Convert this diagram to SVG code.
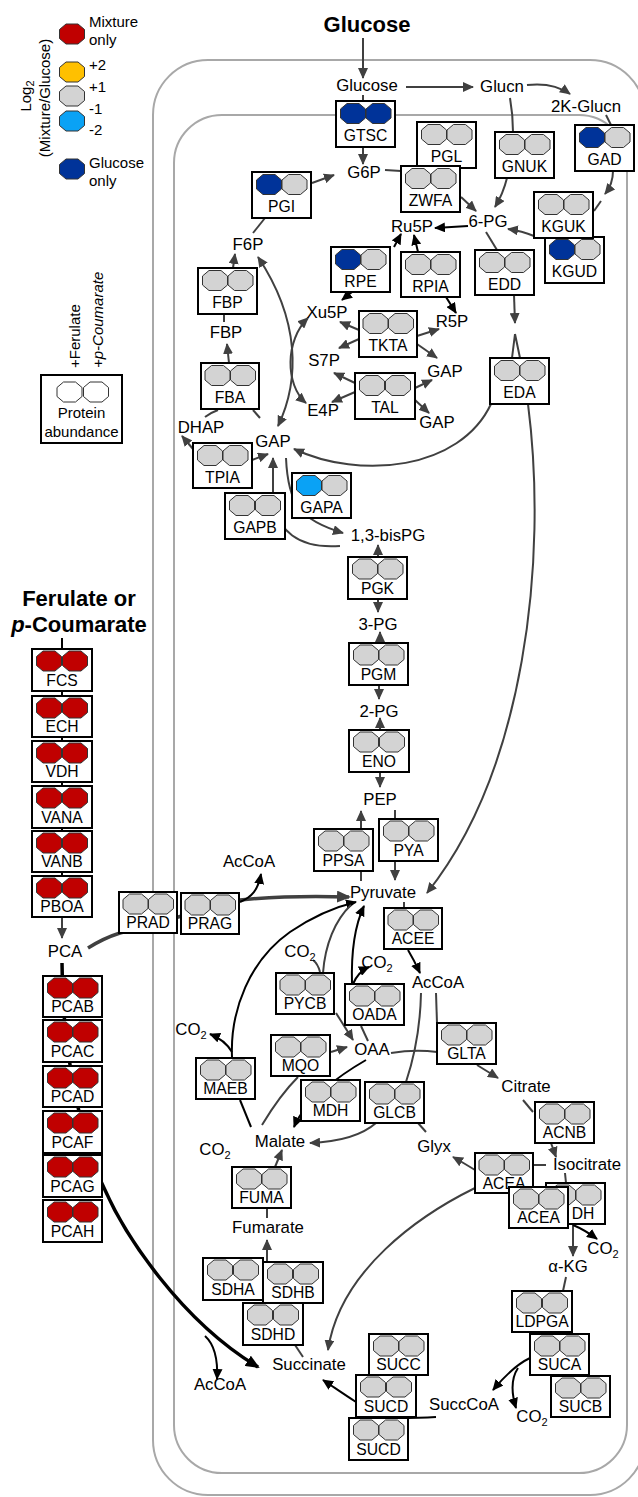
<svg xmlns="http://www.w3.org/2000/svg" width="638" height="1497" viewBox="0 0 638 1497">
<defs>
<style>
text{font-family:"Liberation Sans",Arial,sans-serif;fill:#000}
.m{font-size:16.8px;text-anchor:middle}
.e{font-size:15.7px;text-anchor:middle}
.lg{font-size:15px}
.t{font-size:22px;font-weight:bold;text-anchor:middle}
.box{fill:#fff;stroke:#000;stroke-width:2}
.oct{stroke:#333;stroke-width:1}
.gr{fill:#d3d3d3}.rd{fill:#c00000}.db{fill:#003399}.lb{fill:#0aa2f5}.yl{fill:#ffc000}.wh{fill:#fff}
.mem{fill:none;stroke:#a8a8a8;stroke-width:2}
.c{fill:none;stroke:#404040;stroke-width:2}
.k{fill:none;stroke:#000;stroke-width:2}
.ag{marker-end:url(#ag)}
.ak{marker-end:url(#ak)}
.ab{marker-start:url(#ag);marker-end:url(#ag)}
.thick{stroke-width:3.5}
</style>
<polygon id="o" points="-6,-10 6,-10 12.5,-4.5 12.5,4.5 6,10 -6,10 -12.5,4.5 -12.5,-4.5"/>
<marker id="ag" markerUnits="userSpaceOnUse" markerWidth="11" markerHeight="10" refX="10" refY="5" orient="auto-start-reverse"><path d="M0,0 L11,5 L0,10 z" fill="#404040"/></marker>
<marker id="ak" markerUnits="userSpaceOnUse" markerWidth="11" markerHeight="10" refX="10" refY="5" orient="auto-start-reverse"><path d="M0,0 L11,5 L0,10 z" fill="#000"/></marker>
<marker id="agT" markerUnits="userSpaceOnUse" markerWidth="14" markerHeight="12" refX="12" refY="6" orient="auto"><path d="M0,0 L14,6 L0,12 z" fill="#404040"/></marker>
<marker id="akT" markerUnits="userSpaceOnUse" markerWidth="14" markerHeight="12" refX="12" refY="6" orient="auto"><path d="M0,0 L14,6 L0,12 z" fill="#000"/></marker>
</defs>
<rect width="638" height="1497" fill="#fff"/>

<g id="membranes">
<rect class="mem" x="153" y="60" width="492" height="1435" rx="55"/>
<rect class="mem" x="174" y="115" width="453" height="1358" rx="48"/>
</g>

<g id="legend">
<use href="#o" x="72" y="34" class="oct rd"/>
<use href="#o" x="72" y="72" class="oct yl"/>
<use href="#o" x="72" y="96" class="oct gr"/>
<use href="#o" x="72" y="121" class="oct lb"/>
<use href="#o" x="72" y="169" class="oct db"/>
<text class="lg" x="89" y="27">Mixture</text>
<text class="lg" x="89" y="45">only</text>
<text class="lg" x="89" y="70">+2</text>
<text class="lg" x="89" y="92">+1</text>
<text class="lg" x="89" y="114">-1</text>
<text class="lg" x="89" y="135">-2</text>
<text class="lg" x="89" y="168">Glucose</text>
<text class="lg" x="89" y="186">only</text>
<text class="lg" text-anchor="middle" transform="translate(31,96) rotate(-90)">Log<tspan font-size="11" dy="3">2</tspan></text>
<text class="lg" text-anchor="middle" transform="translate(50,98) rotate(-90)">(Mixture/Glucose)</text>
</g>

<g id="legend-abundance">
<text class="lg" transform="translate(80,368) rotate(-90)">+Ferulate</text>
<text class="lg" font-style="italic" transform="translate(103,368) rotate(-90)">+p-Coumarate</text>
<rect class="box" x="41" y="375" width="81" height="68"/>
<use href="#o" x="69.5" y="392" class="oct wh"/>
<use href="#o" x="96" y="392" class="oct wh"/>
<text class="lg" text-anchor="middle" x="81.5" y="418">Protein</text>
<text class="lg" text-anchor="middle" x="81.5" y="437">abundance</text>
</g>

<g id="connectors">
<path class="c ag" d="M363,38 V78"/>
<path class="c ag" d="M406,87 H473"/>
<path class="c ag" d="M527,85 Q553,82 570,94"/>
<path class="c" d="M363,95 V101"/>
<path class="c ag" d="M363,147 V164"/>
<path class="c" d="M385,170 L401,171"/>
<path class="c ag" d="M461,197 L476,211"/>
<path class="c" d="M510,98 Q513,115 513,132"/>
<path class="c ag" d="M507,178 Q503,194 495,207"/>
<path class="c" d="M606,115 L611,125"/>
<path class="c ag" d="M613,171 Q613,184 605,194"/>
<path class="c" d="M601,201 L594,211"/>
<path class="c ag" d="M534,236 Q522,231 508,229"/>
<path class="k ak" d="M468,226 L435,228"/>
<path class="k ak" d="M394,247 L401,234"/>
<path class="k ak" d="M418,252 L414,235"/>
<path class="c" d="M486,232 L497,250"/>
<path class="c ag" d="M514,295 L515,323"/>
<path class="c" d="M515,334 L512,358 M515,334 L520,358"/>
<path class="c ag" d="M491,404 C460,470 360,480 294,449"/>
<path class="c ag" d="M528,404 C548,560 525,770 427,893"/>
<path class="c" d="M253,233 L265,218"/>
<path class="c ag" d="M312,183 L334,175"/>
<path class="c ag" d="M233,268 L235,254"/>
<path class="c" d="M224,314 V322"/>
<path class="c ag" d="M229,363 L227,344"/>
<path class="c" d="M218,410 Q210,413 205,417"/>
<path class="c" d="M253,410 L260,418"/>
<path class="c ag" d="M193,449 L182,436"/>
<path class="c ag" d="M252,460 L268,454"/>
<path class="c ab" d="M258,257 C300,320 300,380 278,426"/>
<path class="c ab" d="M308,318 C285,340 285,385 306,403"/>
<path class="k ak" d="M352,292 L342,300"/>
<path class="k ak" d="M446,297 L456,313"/>
<path class="c ag" d="M359,330 L340,322"/>
<path class="c ag" d="M359,339 L339,348"/>
<path class="c ag" d="M417,336 L439,329"/>
<path class="c ag" d="M417,344 L437,358"/>
<path class="c ag" d="M355,383 L334,373"/>
<path class="c ag" d="M355,392 L332,402"/>
<path class="c ag" d="M415,388 L432,380"/>
<path class="c ag" d="M415,400 L429,413"/>
<path class="c ag" d="M286,458 C288,505 300,520 343,533"/>
<path class="c ag" d="M340,546 C300,549 275,532 273,495 L273,458"/>
<path class="c ag" d="M378,557 V545"/>
<path class="c ag" d="M378,599 V612"/>
<path class="c ag" d="M380,643 V632"/>
<path class="c ag" d="M379,684 V699"/>
<path class="c ag" d="M380,730 V718"/>
<path class="c ag" d="M380,772 V787"/>
<path class="c ag" d="M361,881 V811"/>
<path class="c" d="M395,810 V819"/>
<path class="c ag" d="M395,861 V880"/>
<path class="c" d="M404,902 V908"/>
<path class="k ak" d="M408,950 Q414,960 420,973"/>
<path class="k" d="M62,638 V916"/>
<path class="c ag" d="M62,916 V938"/>
<path class="k thick" marker-end="url(#akT)" d="M62,963 C62,1060 85,1150 105,1190 C125,1235 180,1320 258,1367"/>
<path class="k ak" d="M205,1336 C215,1345 218,1360 217,1379"/>
<path class="c thick" marker-end="url(#agT)" d="M88,948 Q104,938 120,933 L240,900 C280,896 320,896 349,897"/>
<path class="k ak" d="M240,902 C252,897 258,890 261,874"/>
<path class="k ak" d="M232,1057 C230,1010 250,960 290,932 C315,915 335,907 356,902"/>
<path class="k ak" d="M232,1052 Q225,1040 210,1034"/>
<path class="k" d="M251,1127 L240,1100"/>
<path class="c" d="M351,905 C335,920 325,945 323,973"/>
<path class="c" d="M313,960 Q318,964 320,972"/>
<path class="c ag" d="M336,1013 L353,1040"/>
<path class="k ak" d="M352,984 C351,950 355,925 364,906"/>
<path class="k ak" d="M353,984 Q358,972 369,967"/>
<path class="c" d="M368,1041 L361,1026"/>
<path class="c" d="M262,1125 Q280,1095 298,1077"/>
<path class="c ag" d="M331,1052 L347,1047"/>
<path class="k ak" d="M366,1060 C340,1075 305,1100 294,1127"/>
<path class="c" d="M421,993 Q420,1040 406,1082"/>
<path class="c" d="M426,1132 L418,1123"/>
<path class="c ag" d="M376,1123 C360,1137 335,1142 310,1143"/>
<path class="c" d="M436,993 L437,1023"/>
<path class="c" d="M391,1053 Q415,1049 437,1052"/>
<path class="c ag" d="M477,1065 L498,1078"/>
<path class="c" d="M523,1100 L533,1112"/>
<path class="c ag" d="M551,1143 L556,1157"/>
<path class="c" d="M546,1165 L533,1165"/>
<path class="c ag" d="M475,1170 Q462,1162 453,1157"/>
<path class="c ag" d="M475,1188 C420,1215 340,1270 328,1350"/>
<path class="c" d="M565,1173 L566,1183"/>
<path class="c ag" d="M573,1225 V1256"/>
<path class="k ak" d="M573,1225 Q585,1230 597,1239"/>
<path class="c" d="M566,1277 L563,1291"/>
<path class="k ak" d="M530,1358 C515,1365 503,1378 493,1390"/>
<path class="k ak" d="M518,1368 C510,1380 512,1395 516,1408"/>
<path class="k" d="M436,1417 Q420,1418 398,1418"/>
<path class="k ak" d="M356,1402 C345,1395 335,1388 323,1380"/>
<path class="c" d="M303,1357 L295,1345"/>
<path class="c ag" d="M267,1262 V1240"/>
<path class="c" d="M267,1218 V1209"/>
<path class="c ag" d="M275,1167 L282,1150"/>
</g>

<g id="metabolites">
<text id="t-glucose-ext" class="t" x="367" y="32">Glucose</text>
<text id="t-ferulate" class="t" x="79" y="606">Ferulate or</text>
<text id="t-coumarate" class="t" x="79" y="632"><tspan font-style="italic">p</tspan>-Coumarate</text>
<text id="glucose" class="m" x="367" y="91">Glucose</text>
<text id="glucn" class="m" x="502" y="92">Glucn</text>
<text id="k-glucn" class="m" x="586" y="112">2K-Glucn</text>
<text id="g6p" class="m" x="364" y="178">G6P</text>
<text id="pg6" class="m" x="488" y="227">6-PG</text>
<text id="ru5p" class="m" x="412" y="232">Ru5P</text>
<text id="f6p" class="m" x="248" y="250">F6P</text>
<text id="fbp" class="m" x="226" y="338">FBP</text>
<text id="xu5p" class="m" x="327" y="318">Xu5P</text>
<text id="r5p" class="m" x="452" y="327">R5P</text>
<text id="s7p" class="m" x="324" y="366">S7P</text>
<text id="gap-1" class="m" x="445" y="377">GAP</text>
<text id="e4p" class="m" x="323" y="416">E4P</text>
<text id="gap-2" class="m" x="437" y="428">GAP</text>
<text id="dhap" class="m" x="201" y="433">DHAP</text>
<text id="gap" class="m" x="273" y="447">GAP</text>
<text id="bpg" class="m" x="388" y="541">1,3-bisPG</text>
<text id="pg3" class="m" x="378" y="630">3-PG</text>
<text id="pg2" class="m" x="379" y="717">2-PG</text>
<text id="pep" class="m" x="380" y="805">PEP</text>
<text id="pyruvate" class="m" x="383" y="898">Pyruvate</text>
<text id="accoa-1" class="m" x="249" y="867">AcCoA</text>
<text id="accoa-2" class="m" x="438" y="988">AcCoA</text>
<text id="co2-1" class="m" x="300" y="957">CO<tspan font-size="11" dy="4">2</tspan></text>
<text id="co2-2" class="m" x="377" y="968">CO<tspan font-size="11" dy="4">2</tspan></text>
<text id="oaa" class="m" x="372" y="1055">OAA</text>
<text id="co2-3" class="m" x="191" y="1035">CO<tspan font-size="11" dy="4">2</tspan></text>
<text id="citrate" class="m" x="526" y="1092">Citrate</text>
<text id="malate" class="m" x="280" y="1147">Malate</text>
<text id="co2-4" class="m" x="215" y="1155">CO<tspan font-size="11" dy="4">2</tspan></text>
<text id="glyx" class="m" x="434" y="1152">Glyx</text>
<text id="isocitrate" class="m" x="587" y="1170">Isocitrate</text>
<text id="fumarate" class="m" x="268" y="1233">Fumarate</text>
<text id="co2-5" class="m" x="603" y="1254">CO<tspan font-size="11" dy="4">2</tspan></text>
<text id="akg" class="m" x="568" y="1272">α-KG</text>
<text id="succinate" class="m" x="309" y="1370">Succinate</text>
<text id="accoa-3" class="m" x="220" y="1390">AcCoA</text>
<text id="succcoa" class="m" x="464" y="1410">SuccCoA</text>
<text id="co2-6" class="m" x="532" y="1422">CO<tspan font-size="11" dy="4">2</tspan></text>
<text id="pca" class="m" x="65" y="957">PCA</text>
</g>

<g id="enzymes-upper">
<g id="GTSC" transform="translate(336,101)"><rect class="box" width="59" height="46"/><use href="#o" x="17" y="12.5" class="oct db"/><use href="#o" x="42.5" y="12.5" class="oct db"/><text class="e" x="29.5" y="40">GTSC</text></g>
<g id="PGL" transform="translate(417,122)"><rect class="box" width="59" height="46"/><use href="#o" x="17" y="12.5" class="oct gr"/><use href="#o" x="42.5" y="12.5" class="oct gr"/><text class="e" x="29.5" y="40">PGL</text></g>
<g id="ZWFA" transform="translate(401,166)"><rect class="box" width="59" height="46"/><use href="#o" x="17" y="12.5" class="oct gr"/><use href="#o" x="42.5" y="12.5" class="oct gr"/><text class="e" x="29.5" y="40">ZWFA</text></g>
<g id="GNUK" transform="translate(495,132)"><rect class="box" width="59" height="46"/><use href="#o" x="17" y="12.5" class="oct gr"/><use href="#o" x="42.5" y="12.5" class="oct gr"/><text class="e" x="29.5" y="40">GNUK</text></g>
<g id="GAD" transform="translate(575,125)"><rect class="box" width="59" height="46"/><use href="#o" x="17" y="12.5" class="oct db"/><use href="#o" x="42.5" y="12.5" class="oct gr"/><text class="e" x="29.5" y="40">GAD</text></g>
<g id="KGUD" transform="translate(545,237)"><rect class="box" width="59" height="46"/><use href="#o" x="17" y="12.5" class="oct db"/><use href="#o" x="42.5" y="12.5" class="oct gr"/><text class="e" x="29.5" y="40">KGUD</text></g>
<g id="KGUK" transform="translate(534,192)"><rect class="box" width="59" height="46"/><use href="#o" x="17" y="12.5" class="oct gr"/><use href="#o" x="42.5" y="12.5" class="oct gr"/><text class="e" x="29.5" y="40">KGUK</text></g>
<g id="PGI" transform="translate(252,172)"><rect class="box" width="59" height="46"/><use href="#o" x="17" y="12.5" class="oct db"/><use href="#o" x="42.5" y="12.5" class="oct gr"/><text class="e" x="29.5" y="40">PGI</text></g>
<g id="RPE" transform="translate(331,247)"><rect class="box" width="59" height="45"/><use href="#o" x="17" y="12.5" class="oct db"/><use href="#o" x="42.5" y="12.5" class="oct gr"/><text class="e" x="29.5" y="40">RPE</text></g>
<g id="RPIA" transform="translate(401,252)"><rect class="box" width="59" height="45"/><use href="#o" x="17" y="12.5" class="oct gr"/><use href="#o" x="42.5" y="12.5" class="oct gr"/><text class="e" x="29.5" y="40">RPIA</text></g>
<g id="EDD" transform="translate(475,250)"><rect class="box" width="59" height="45"/><use href="#o" x="17" y="12.5" class="oct gr"/><use href="#o" x="42.5" y="12.5" class="oct gr"/><text class="e" x="29.5" y="40">EDD</text></g>
<g id="FBP" transform="translate(198,268)"><rect class="box" width="59" height="46"/><use href="#o" x="17" y="12.5" class="oct gr"/><use href="#o" x="42.5" y="12.5" class="oct gr"/><text class="e" x="29.5" y="40">FBP</text></g>
<g id="TKTA" transform="translate(359,311)"><rect class="box" width="58" height="46"/><use href="#o" x="16.5" y="12.5" class="oct gr"/><use href="#o" x="42" y="12.5" class="oct gr"/><text class="e" x="29" y="40">TKTA</text></g>
<g id="FBA" transform="translate(201,363)"><rect class="box" width="58" height="46"/><use href="#o" x="16.5" y="12.5" class="oct gr"/><use href="#o" x="42" y="12.5" class="oct gr"/><text class="e" x="29" y="40">FBA</text></g>
<g id="TAL" transform="translate(355,373)"><rect class="box" width="60" height="46"/><use href="#o" x="17" y="12.5" class="oct gr"/><use href="#o" x="43" y="12.5" class="oct gr"/><text class="e" x="30" y="40">TAL</text></g>
<g id="EDA" transform="translate(490,358)"><rect class="box" width="59" height="46"/><use href="#o" x="17" y="12.5" class="oct gr"/><use href="#o" x="42.5" y="12.5" class="oct gr"/><text class="e" x="29.5" y="40">EDA</text></g>
<g id="TPIA" transform="translate(193,443)"><rect class="box" width="59" height="45"/><use href="#o" x="17" y="12.5" class="oct gr"/><use href="#o" x="42.5" y="12.5" class="oct gr"/><text class="e" x="29.5" y="40">TPIA</text></g>
<g id="GAPA" transform="translate(292,473)"><rect class="box" width="59" height="45"/><use href="#o" x="17" y="12.5" class="oct lb"/><use href="#o" x="42.5" y="12.5" class="oct gr"/><text class="e" x="29.5" y="40">GAPA</text></g>
<g id="GAPB" transform="translate(225,493)"><rect class="box" width="60" height="46"/><use href="#o" x="17" y="12.5" class="oct gr"/><use href="#o" x="43" y="12.5" class="oct gr"/><text class="e" x="30" y="40">GAPB</text></g>
</g>

<g id="enzymes-lower">
<g id="PGK" transform="translate(348,557)"><rect class="box" width="59" height="42"/><use href="#o" x="17" y="12" class="oct gr"/><use href="#o" x="42.5" y="12" class="oct gr"/><text class="e" x="29.5" y="37">PGK</text></g>
<g id="PGM" transform="translate(349,643)"><rect class="box" width="59" height="42"/><use href="#o" x="17" y="12" class="oct gr"/><use href="#o" x="42.5" y="12" class="oct gr"/><text class="e" x="29.5" y="37">PGM</text></g>
<g id="ENO" transform="translate(349,730)"><rect class="box" width="60" height="42"/><use href="#o" x="17" y="12" class="oct gr"/><use href="#o" x="43" y="12" class="oct gr"/><text class="e" x="30" y="37">ENO</text></g>
<g id="PPSA" transform="translate(314,829)"><rect class="box" width="59" height="42"/><use href="#o" x="17" y="12" class="oct gr"/><use href="#o" x="42.5" y="12" class="oct gr"/><text class="e" x="29.5" y="37">PPSA</text></g>
<g id="PYA" transform="translate(379,819)"><rect class="box" width="59" height="42"/><use href="#o" x="17" y="12" class="oct gr"/><use href="#o" x="42.5" y="12" class="oct gr"/><text class="e" x="29.5" y="37">PYA</text></g>
<g id="PRAD" transform="translate(119,892)"><rect class="box" width="58" height="41"/><use href="#o" x="16.5" y="12" class="oct gr"/><use href="#o" x="42" y="12" class="oct gr"/><text class="e" x="29" y="36">PRAD</text></g>
<g id="PRAG" transform="translate(181,893)"><rect class="box" width="58" height="41"/><use href="#o" x="16.5" y="12" class="oct gr"/><use href="#o" x="42" y="12" class="oct gr"/><text class="e" x="29" y="36">PRAG</text></g>
<g id="ACEE" transform="translate(384,908)"><rect class="box" width="58" height="41"/><use href="#o" x="16.5" y="12" class="oct gr"/><use href="#o" x="42" y="12" class="oct gr"/><text class="e" x="29" y="36">ACEE</text></g>
<g id="PYCB" transform="translate(276,973)"><rect class="box" width="58" height="41"/><use href="#o" x="16.5" y="12" class="oct gr"/><use href="#o" x="42" y="12" class="oct gr"/><text class="e" x="29" y="36">PYCB</text></g>
<g id="OADA" transform="translate(345,984)"><rect class="box" width="59" height="41"/><use href="#o" x="17" y="12" class="oct gr"/><use href="#o" x="42.5" y="12" class="oct gr"/><text class="e" x="29.5" y="36">OADA</text></g>
<g id="MQO" transform="translate(271,1035)"><rect class="box" width="59" height="41"/><use href="#o" x="17" y="12" class="oct gr"/><use href="#o" x="42.5" y="12" class="oct gr"/><text class="e" x="29.5" y="36">MQO</text></g>
<g id="MAEB" transform="translate(196,1058)"><rect class="box" width="59" height="41"/><use href="#o" x="17" y="12" class="oct gr"/><use href="#o" x="42.5" y="12" class="oct gr"/><text class="e" x="29.5" y="36">MAEB</text></g>
<g id="MDH" transform="translate(301,1080)"><rect class="box" width="59" height="41"/><use href="#o" x="17" y="12" class="oct gr"/><use href="#o" x="42.5" y="12" class="oct gr"/><text class="e" x="29.5" y="36">MDH</text></g>
<g id="GLCB" transform="translate(365,1082)"><rect class="box" width="59" height="41"/><use href="#o" x="17" y="12" class="oct gr"/><use href="#o" x="42.5" y="12" class="oct gr"/><text class="e" x="29.5" y="36">GLCB</text></g>
<g id="GLTA" transform="translate(437,1023)"><rect class="box" width="59" height="41"/><use href="#o" x="17" y="12" class="oct gr"/><use href="#o" x="42.5" y="12" class="oct gr"/><text class="e" x="29.5" y="36">GLTA</text></g>
<g id="ACNB" transform="translate(535,1102)"><rect class="box" width="59" height="41"/><use href="#o" x="17" y="12" class="oct gr"/><use href="#o" x="42.5" y="12" class="oct gr"/><text class="e" x="29.5" y="36">ACNB</text></g>
<g id="FUMA" transform="translate(232,1167)"><rect class="box" width="59" height="41"/><use href="#o" x="17" y="12" class="oct gr"/><use href="#o" x="42.5" y="12" class="oct gr"/><text class="e" x="29.5" y="36">FUMA</text></g>
<g id="ACEA-1" transform="translate(475,1153)"><rect class="box" width="58" height="40"/><use href="#o" x="16.5" y="12" class="oct gr"/><use href="#o" x="42" y="12" class="oct gr"/><text class="e" x="29" y="36">ACEA</text></g>
<g id="ICDH" transform="translate(546,1183)"><rect class="box" width="59" height="41"/><use href="#o" x="17" y="12" class="oct gr"/><use href="#o" x="42.5" y="12" class="oct gr"/><text class="e" x="37" y="36">DH</text></g>
<g id="ACEA-2" transform="translate(509,1187)"><rect class="box" width="59" height="41"/><use href="#o" x="17" y="12" class="oct gr"/><use href="#o" x="42.5" y="12" class="oct gr"/><text class="e" x="29.5" y="36">ACEA</text></g>
<g id="SDHA" transform="translate(203,1258)"><rect class="box" width="60" height="42"/><use href="#o" x="17" y="12" class="oct gr"/><use href="#o" x="43" y="12" class="oct gr"/><text class="e" x="30" y="37">SDHA</text></g>
<g id="SDHB" transform="translate(263,1262)"><rect class="box" width="60" height="41"/><use href="#o" x="17" y="12" class="oct gr"/><use href="#o" x="43" y="12" class="oct gr"/><text class="e" x="30" y="36">SDHB</text></g>
<g id="SDHD" transform="translate(243,1303)"><rect class="box" width="60" height="42"/><use href="#o" x="17" y="12" class="oct gr"/><use href="#o" x="43" y="12" class="oct gr"/><text class="e" x="30" y="37">SDHD</text></g>
<g id="LDPGA" transform="translate(512,1291)"><rect class="box" width="60" height="41"/><use href="#o" x="17" y="12" class="oct gr"/><use href="#o" x="43" y="12" class="oct gr"/><text class="e" x="30" y="36">LDPGA</text></g>
<g id="SUCA" transform="translate(530,1334)"><rect class="box" width="59" height="41"/><use href="#o" x="17" y="12" class="oct gr"/><use href="#o" x="42.5" y="12" class="oct gr"/><text class="e" x="29.5" y="36">SUCA</text></g>
<g id="SUCB" transform="translate(551,1376)"><rect class="box" width="59" height="41"/><use href="#o" x="17" y="12" class="oct gr"/><use href="#o" x="42.5" y="12" class="oct gr"/><text class="e" x="29.5" y="36">SUCB</text></g>
<g id="SUCC" transform="translate(369,1334)"><rect class="box" width="59" height="41"/><use href="#o" x="17" y="12" class="oct gr"/><use href="#o" x="42.5" y="12" class="oct gr"/><text class="e" x="29.5" y="36">SUCC</text></g>
<g id="SUCD-1" transform="translate(356,1375)"><rect class="box" width="60" height="42"/><use href="#o" x="17" y="12" class="oct gr"/><use href="#o" x="43" y="12" class="oct gr"/><text class="e" x="30" y="37">SUCD</text></g>
<g id="SUCD-2" transform="translate(349,1418)"><rect class="box" width="59" height="42"/><use href="#o" x="17" y="12" class="oct gr"/><use href="#o" x="42.5" y="12" class="oct gr"/><text class="e" x="29.5" y="37">SUCD</text></g>
</g>

<g id="enzymes-aromatic">
<g id="FCS" transform="translate(32,649)"><rect class="box" width="60" height="42"/><use href="#o" x="17" y="12" class="oct rd"/><use href="#o" x="43" y="12" class="oct rd"/><text class="e" x="30" y="37">FCS</text></g>
<g id="ECH" transform="translate(32,696)"><rect class="box" width="60" height="41"/><use href="#o" x="17" y="12" class="oct rd"/><use href="#o" x="43" y="12" class="oct rd"/><text class="e" x="30" y="36">ECH</text></g>
<g id="VDH" transform="translate(32,741)"><rect class="box" width="60" height="41"/><use href="#o" x="17" y="12" class="oct rd"/><use href="#o" x="43" y="12" class="oct rd"/><text class="e" x="30" y="36">VDH</text></g>
<g id="VANA" transform="translate(32,786)"><rect class="box" width="60" height="42"/><use href="#o" x="17" y="12" class="oct rd"/><use href="#o" x="43" y="12" class="oct rd"/><text class="e" x="30" y="37">VANA</text></g>
<g id="VANB" transform="translate(32,831)"><rect class="box" width="60" height="41"/><use href="#o" x="17" y="12" class="oct rd"/><use href="#o" x="43" y="12" class="oct rd"/><text class="e" x="30" y="36">VANB</text></g>
<g id="PBOA" transform="translate(32,876)"><rect class="box" width="60" height="41"/><use href="#o" x="17" y="12" class="oct rd"/><use href="#o" x="43" y="12" class="oct rd"/><text class="e" x="30" y="36">PBOA</text></g>
<g id="PCAB" transform="translate(43,976)"><rect class="box" width="59" height="41"/><use href="#o" x="17" y="12" class="oct rd"/><use href="#o" x="42.5" y="12" class="oct rd"/><text class="e" x="29.5" y="36">PCAB</text></g>
<g id="PCAC" transform="translate(43,1020)"><rect class="box" width="59" height="42"/><use href="#o" x="17" y="12" class="oct rd"/><use href="#o" x="42.5" y="12" class="oct rd"/><text class="e" x="29.5" y="37">PCAC</text></g>
<g id="PCAD" transform="translate(43,1066)"><rect class="box" width="59" height="41"/><use href="#o" x="17" y="12" class="oct rd"/><use href="#o" x="42.5" y="12" class="oct rd"/><text class="e" x="29.5" y="36">PCAD</text></g>
<g id="PCAF" transform="translate(43,1111)"><rect class="box" width="59" height="42"/><use href="#o" x="17" y="12" class="oct rd"/><use href="#o" x="42.5" y="12" class="oct rd"/><text class="e" x="29.5" y="37">PCAF</text></g>
<g id="PCAG" transform="translate(43,1155)"><rect class="box" width="59" height="42"/><use href="#o" x="17" y="12" class="oct rd"/><use href="#o" x="42.5" y="12" class="oct rd"/><text class="e" x="29.5" y="37">PCAG</text></g>
<g id="PCAH" transform="translate(43,1200)"><rect class="box" width="59" height="42"/><use href="#o" x="17" y="12" class="oct rd"/><use href="#o" x="42.5" y="12" class="oct rd"/><text class="e" x="29.5" y="37">PCAH</text></g>
</g>
</svg>
